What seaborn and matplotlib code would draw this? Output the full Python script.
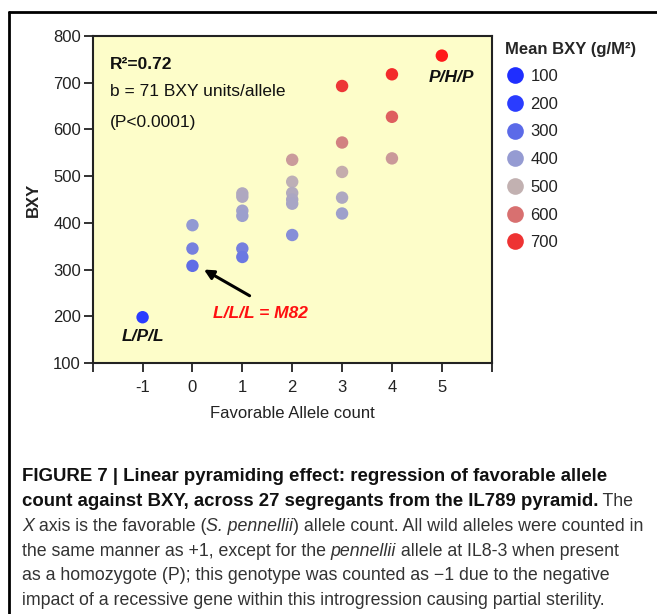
import numpy as np
import pandas as pd
import seaborn as sns
import matplotlib
matplotlib.use("Agg")
import matplotlib.pyplot as plt
from matplotlib.colors import LinearSegmentedColormap
from matplotlib.lines import Line2D

# ---------------- data ----------------
allele_count = [-1, 0, 0, 0, 1, 1, 1, 1, 1, 1, 2, 2, 2, 2, 2, 2, 3, 3, 3, 3, 3, 4, 4, 4, 5]
bxy = [198, 395, 345, 308, 463, 456, 426, 415, 345, 327,
       535, 488, 464, 450, 441, 374, 693, 572, 509, 454, 420, 718, 627, 538, 758]
legend_values = [100, 200, 300, 400, 500, 600, 700]
x_ticks = [-2, -1, 0, 1, 2, 3, 4, 5, 6]
x_tick_labels = ["", "-1", "0", "1", "2", "3", "4", "5", ""]
y_ticks = [100, 200, 300, 400, 500, 600, 700, 800]

# colour scale (value -> colour)
scale_values = [100, 200, 300, 400, 500, 600, 700, 760]
scale_colors = ["#1f2eff", "#2a3cff", "#5b6ae8", "#959bd2", "#c2b2b2", "#d87070", "#ee3333", "#ff1a1a"]

df = pd.DataFrame({"Favorable Allele count": allele_count, "BXY": bxy})

sns.set_theme(style="white")
plt.rcParams["font.family"] = ["Liberation Sans", "DejaVu Sans"]

vmin, vmax = scale_values[0], scale_values[-1]
cmap = LinearSegmentedColormap.from_list(
    "bxy", [((v - vmin) / (vmax - vmin), c) for v, c in zip(scale_values, scale_colors)])

fig = plt.figure(figsize=(6.57, 6.14), dpi=100)
ax = fig.add_axes([92.7 / 657, 1 - 363 / 614, (491.7 - 92.7) / 657, (363 - 36) / 614])
ax.set_facecolor("#fdfdc9")

sns.scatterplot(data=df, x="Favorable Allele count", y="BXY", hue="BXY",
                palette=cmap, hue_norm=(vmin, vmax), s=80, edgecolor="none",
                legend=False, ax=ax, zorder=3)

ax.set_xlim(-2, 6)
ax.set_ylim(100, 800)
ax.set_xticks(x_ticks)
ax.set_xticklabels(x_tick_labels)
ax.set_yticks(y_ticks)
for sp in ax.spines.values():
    sp.set_color("#222222")
    sp.set_linewidth(1.5)
ax.tick_params(axis="both", which="both", direction="out", length=6.5, width=1.3,
               color="#222222", labelsize=12, labelcolor="#222222",
               bottom=True, left=True)
ax.tick_params(axis="x", pad=5.5)
ax.tick_params(axis="y", pad=2)
ax.set_xlabel("Favorable Allele count", fontsize=12, color="#222222", labelpad=8)
ax.set_ylabel("BXY", fontsize=12, fontweight="bold", color="#222222", labelpad=9)

# annotations
ax.text(-1.66, 740, "R²=0.72", fontsize=12.5, fontweight="bold", va="center", ha="left", color="#111111")
ax.text(-1.66, 682, "b = 71 BXY units/allele", fontsize=12.5, va="center", ha="left", color="#111111")
ax.text(-1.66, 614, "(P<0.0001)", fontsize=12.5, va="center", ha="left", color="#111111")
ax.text(5.2, 712, "P/H/P", fontsize=12.5, fontweight="bold", style="italic", ha="center", va="center", color="#111111")
ax.text(-1.0, 156, "L/P/L", fontsize=12.5, fontweight="bold", style="italic", ha="center", va="center", color="#111111")
ax.text(1.36, 207, "L/L/L = M82", fontsize=12.5, fontweight="bold", style="italic", ha="center", va="center", color="#ff1010")
ax.annotate("", xy=(0.23, 300), xytext=(1.146, 244),
            arrowprops=dict(arrowstyle="-|>", color="black", lw=2.2, mutation_scale=14, shrinkA=0, shrinkB=0))

# legend
handles = [Line2D([0], [0], marker="o", linestyle="none", markersize=12,
                  markerfacecolor=cmap((v - vmin) / (vmax - vmin)), markeredgecolor="none")
           for v in legend_values]
leg = fig.legend(handles, [str(v) for v in legend_values], title="Mean BXY (g/M²)",
                 loc="upper left", bbox_to_anchor=(498 / 657, 1 - 35 / 614),
                 frameon=False, fontsize=12, title_fontsize=12, labelspacing=0.76,
                 handletextpad=0.35, borderaxespad=0, handlelength=1.2, alignment="left")
leg.get_title().set_fontweight("bold")
leg._legend_box.sep = 9
for t in leg.get_texts():
    t.set_color("#222222")

# frame lines (top and left)
fig.add_artist(Line2D([9 / 657, 1], [1 - 12 / 614, 1 - 12 / 614], color="black", lw=2, transform=fig.transFigure))
fig.add_artist(Line2D([9 / 657, 9 / 657], [0, 1 - 12 / 614], color="black", lw=2, transform=fig.transFigure))

# caption
cap_reg = 12.8
cap_bold = 13.4
cap_color = "#333333"
lines = [
    [("FIGURE 7 | Linear pyramiding effect: regression of favorable allele", "bold", "normal")],
    [("count against BXY, across 27 segregants from the IL789 pyramid.", "bold", "normal"), (" The", "normal", "normal")],
    [("X", "normal", "italic"), (" axis is the favorable (", "normal", "normal"), ("S. pennellii", "normal", "italic"),
     (") allele count. All wild alleles were counted in", "normal", "normal")],
    [("the same manner as +1, except for the ", "normal", "normal"), ("pennellii", "normal", "italic"),
     (" allele at IL8-3 when present", "normal", "normal")],
    [("as a homozygote (P); this genotype was counted as \u22121 due to the negative", "normal", "normal")],
    [("impact of a recessive gene within this introgression causing partial sterility.", "normal", "normal")],
]
baselines = [476, 501, 526, 551, 575, 600]
for yl, pieces in zip(baselines, lines):
    prev = None
    for txt, wt, st in pieces:
        col = "#111111" if wt == "bold" else cap_color
        fs = cap_bold if wt == "bold" else cap_reg
        if prev is None:
            prev = fig.text(22 / 657, 1 - (yl + 9) / 614, txt, fontsize=fs, fontweight=wt,
                            style=st, color=col, ha="left", va="bottom")
        else:
            prev = fig.add_artist(matplotlib.text.Annotation(
                txt, xy=(1, 0), xycoords=prev, va="bottom", ha="left",
                fontsize=fs, fontweight=wt, style=st, color=col))

fig.savefig("out.png", dpi=100)
